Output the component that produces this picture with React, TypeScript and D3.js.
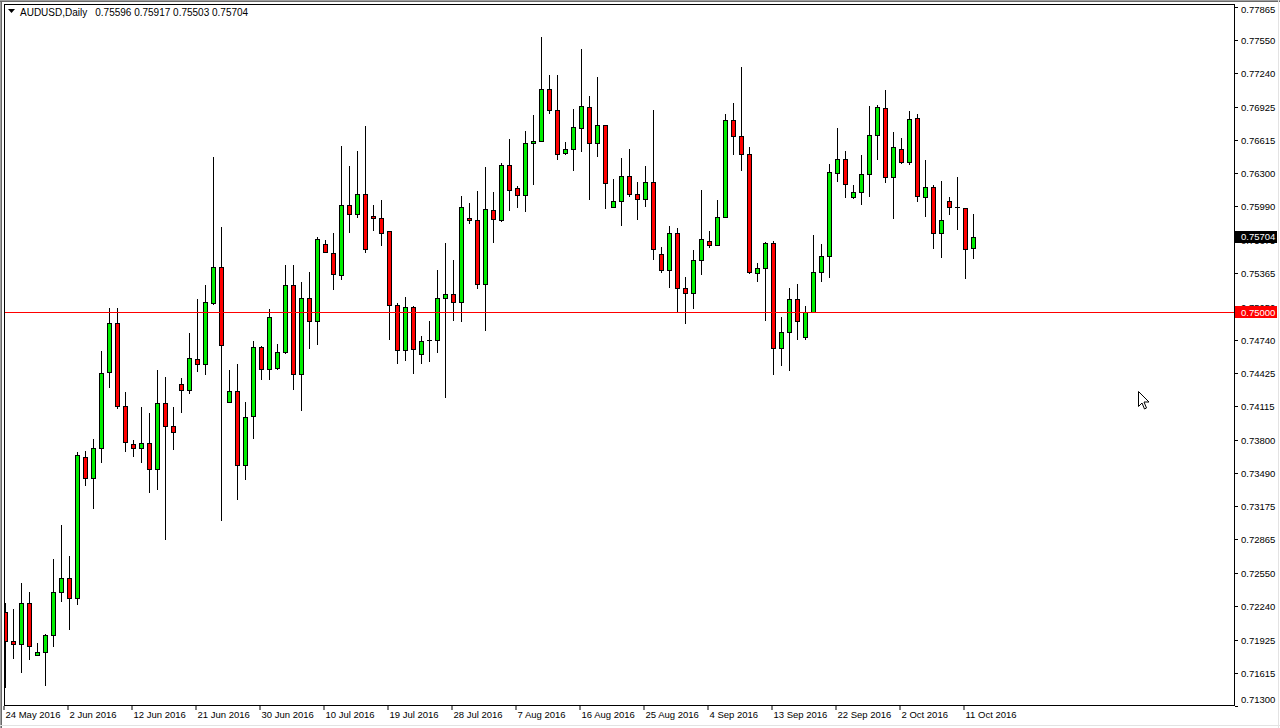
import React from "react";
import * as d3 from "d3";

// ---- Data (AUDUSD Daily, 24 May 2016 – 12 Oct 2016) ----
const opens = [
  0.72185, 0.71912, 0.71884, 0.72269, 0.71781, 0.71809, 0.71969, 0.72372, 0.72504, 0.72316,
  0.73639, 0.73442, 0.73724, 0.74437, 0.74897, 0.74118, 0.73761, 0.73724, 0.73771, 0.73527,
  0.74146, 0.73930, 0.74324, 0.74268, 0.74559, 0.74512, 0.75084, 0.75422, 0.74155, 0.74259,
  0.73564, 0.74024, 0.74672, 0.74465, 0.74474, 0.74625, 0.75253, 0.74418, 0.75131, 0.74916,
  0.75638, 0.75554, 0.75347, 0.76004, 0.75920, 0.76107, 0.75901, 0.75882, 0.75760, 0.75066,
  0.74643, 0.75047, 0.74606, 0.74737, 0.74737, 0.75131, 0.75169, 0.75094, 0.75882, 0.75863,
  0.75263, 0.75957, 0.75863, 0.76380, 0.76164, 0.76098, 0.76586, 0.76605, 0.77093, 0.76896,
  0.76492, 0.76530, 0.76727, 0.76924, 0.76586, 0.76755, 0.75985, 0.76042, 0.76276, 0.76107,
  0.76061, 0.76220, 0.75544, 0.75394, 0.75741, 0.75225, 0.75178, 0.75488, 0.75666, 0.75629,
  0.75892, 0.76802, 0.76652, 0.76483, 0.75366, 0.75413, 0.75648, 0.74662, 0.74812, 0.75122,
  0.74765, 0.75000, 0.75375, 0.75526, 0.76305, 0.76436, 0.76079, 0.76126, 0.76295, 0.76661,
  0.76915, 0.76267, 0.76530, 0.76408, 0.76821, 0.76079, 0.76173, 0.75741, 0.76042, 0.75985,
  0.75976, 0.75596,
];
const highs = [
  0.72269, 0.72213, 0.72457, 0.72372, 0.71894, 0.71978, 0.72682, 0.73001, 0.72710, 0.73686,
  0.73696, 0.73808, 0.74634, 0.75038, 0.75038, 0.74249, 0.73799, 0.74108, 0.74052, 0.74456,
  0.74390, 0.74108, 0.74381, 0.74803, 0.75122, 0.75253, 0.76455, 0.75798, 0.74456, 0.74512,
  0.74155, 0.74728, 0.74681, 0.75028, 0.74700, 0.75441, 0.75441, 0.75282, 0.75375, 0.75704,
  0.75676, 0.75741, 0.76558, 0.76370, 0.76511, 0.76746, 0.76004, 0.76051, 0.75760, 0.75084,
  0.75141, 0.75056, 0.74775, 0.74916, 0.75394, 0.75648, 0.75488, 0.76089, 0.76023, 0.76136,
  0.76361, 0.76126, 0.76398, 0.76624, 0.76183, 0.76699, 0.76849, 0.77581, 0.77224, 0.77224,
  0.76595, 0.76905, 0.77468, 0.77027, 0.77205, 0.76755, 0.76248, 0.76445, 0.76530, 0.76220,
  0.76370, 0.76896, 0.75610, 0.75807, 0.75788, 0.75328, 0.75582, 0.76145, 0.75760, 0.76051,
  0.76858, 0.76961, 0.77299, 0.76549, 0.75460, 0.75657, 0.75666, 0.74953, 0.75225, 0.75263,
  0.75056, 0.75723, 0.75638, 0.76389, 0.76727, 0.76511, 0.76192, 0.76473, 0.76933, 0.76943,
  0.77084, 0.76689, 0.76633, 0.76886, 0.76858, 0.76427, 0.76192, 0.76229, 0.76079, 0.76267,
  0.75976, 0.75917,
];
const lows = [
  0.71481, 0.71753, 0.71621, 0.71743, 0.71781, 0.71499, 0.71865, 0.72288, 0.72025, 0.72260,
  0.73376, 0.73161, 0.73592, 0.74296, 0.74099, 0.73696, 0.73649, 0.73592, 0.73311, 0.73339,
  0.72870, 0.73714, 0.74062, 0.74240, 0.74446, 0.74418, 0.75075, 0.73048, 0.74155, 0.73245,
  0.73433, 0.73817, 0.74371, 0.74371, 0.74465, 0.74615, 0.74277, 0.74080, 0.74662, 0.74700,
  0.75563, 0.75216, 0.75310, 0.75751, 0.75892, 0.75563, 0.75770, 0.75629, 0.74747, 0.74521,
  0.74550, 0.74428, 0.74521, 0.74540, 0.74625, 0.74202, 0.74925, 0.74916, 0.75835, 0.75225,
  0.74831, 0.75657, 0.75854, 0.75957, 0.75985, 0.75948, 0.76201, 0.76605, 0.76868, 0.76436,
  0.76483, 0.76333, 0.76511, 0.76061, 0.76464, 0.75976, 0.75985, 0.75817, 0.76089, 0.75873,
  0.75995, 0.75497, 0.75375, 0.75235, 0.75000, 0.74897, 0.75038, 0.75357, 0.75610, 0.75629,
  0.75892, 0.76483, 0.76333, 0.75366, 0.75291, 0.74925, 0.74418, 0.74503, 0.74456, 0.74747,
  0.74747, 0.75000, 0.75291, 0.75328, 0.76229, 0.76079, 0.76070, 0.76014, 0.76089, 0.76436,
  0.76220, 0.75882, 0.76398, 0.76389, 0.76042, 0.75901, 0.75601, 0.75516, 0.75920, 0.75779,
  0.75319, 0.75503,
];
const closes = [
  0.71912, 0.71884, 0.72269, 0.71865, 0.71809, 0.71969, 0.72372, 0.72504, 0.72316, 0.73658,
  0.73442, 0.73724, 0.74428, 0.74897, 0.74118, 0.73780, 0.73724, 0.73771, 0.73527, 0.74146,
  0.73930, 0.73874, 0.74268, 0.74568, 0.74512, 0.75094, 0.75422, 0.74690, 0.74259, 0.73564,
  0.74015, 0.74672, 0.74465, 0.74953, 0.74625, 0.75253, 0.74418, 0.75131, 0.74916, 0.75685,
  0.75563, 0.75357, 0.76004, 0.75920, 0.76107, 0.75591, 0.75882, 0.75741, 0.75066, 0.74643,
  0.75047, 0.74653, 0.74728, 0.74737, 0.75131, 0.75169, 0.75094, 0.75985, 0.75863, 0.75263,
  0.75967, 0.75873, 0.76380, 0.76145, 0.76098, 0.76586, 0.76605, 0.77093, 0.76896, 0.76483,
  0.76530, 0.76736, 0.76933, 0.76586, 0.76755, 0.76211, 0.76042, 0.76276, 0.76107, 0.76061,
  0.76220, 0.75591, 0.75394, 0.75741, 0.75225, 0.75178, 0.75488, 0.75685, 0.75629, 0.75892,
  0.76802, 0.76652, 0.76483, 0.75375, 0.75413, 0.75648, 0.74662, 0.74812, 0.75122, 0.74916,
  0.75000, 0.75375, 0.75526, 0.76314, 0.76436, 0.76201, 0.76126, 0.76295, 0.76661, 0.76924,
  0.76267, 0.76549, 0.76408, 0.76811, 0.76089, 0.76173, 0.75741, 0.75863, 0.75985, 0.75985,
  0.75591, 0.75704,
];

const dateLabels = [
  "24 May 2016", "2 Jun 2016", "12 Jun 2016", "21 Jun 2016", "30 Jun 2016", "10 Jul 2016",
  "19 Jul 2016", "28 Jul 2016", "7 Aug 2016", "16 Aug 2016", "25 Aug 2016", "4 Sep 2016",
  "13 Sep 2016", "22 Sep 2016", "2 Oct 2016", "11 Oct 2016",
];
const dateLabelBars = [0, 8, 16, 24, 32, 40, 48, 56, 64, 72, 80, 88, 96, 104, 112, 120];

const priceLabels = [
  "0.77865", "0.77550", "0.77240", "0.76925", "0.76615", "0.76300", "0.75990", "0.75675",
  "0.75365", "0.75050", "0.74740", "0.74425", "0.74115", "0.73800", "0.73490", "0.73175",
  "0.72865", "0.72550", "0.72240", "0.71925", "0.71615", "0.71300",
];

const symbolTitle = "AUDUSD,Daily";
const levelPrice = 0.75;

// ---- Layout ----
const W = 1280;
const H = 728;
const plot = { left: 4, top: 4, right: 1234, bottom: 705 };
const BULL = "#00ee00";
const BEAR = "#ff0000";
const FONT = "'Liberation Sans', Arial, sans-serif";

export default function App() {
  const n = closes.length;
  const x = d3.scaleLinear().domain([0, n - 1]).range([5.5, 5.5 + 8 * (n - 1)]);
  const y = d3
    .scaleLinear()
    .domain([+priceLabels[priceLabels.length - 1], +priceLabels[0]])
    .range([706.2, 6.7]);

  const py = (v: number) => Math.round(y(v));
  const last = n - 1;
  const lastO = opens[last], lastH = highs[last], lastL = lows[last], lastC = closes[last];

  const candles = d3.range(n).map((i) => {
    const cx = x(i);
    const o = py(opens[i]);
    const c = py(closes[i]);
    const hi = py(highs[i]);
    const lo = py(lows[i]);
    const top = Math.min(o, c);
    const bot = Math.max(o, c);
    const up = closes[i] > opens[i];
    const flat = closes[i] === opens[i] || bot - top < 1;
    return (
      <g key={i}>
        <line x1={cx} x2={cx} y1={hi} y2={lo + 1} stroke="#000" strokeWidth={1} />
        {flat ? (
          <line x1={cx - 2.5} x2={cx + 2.5} y1={top + 0.5} y2={top + 0.5} stroke="#000" strokeWidth={1} />
        ) : (
          <rect
            x={cx - 2}
            y={top + 0.5}
            width={4}
            height={bot - top}
            fill={up ? BULL : BEAR}
            stroke="#000"
            strokeWidth={1}
          />
        )}
      </g>
    );
  });

  const lvlY = py(levelPrice) + 0.5;
  const curY = y(lastC);

  return (
    <svg
      width={W}
      height={H}
      style={{ position: "absolute", left: 0, top: 0, display: "block", background: "#fff" }}
    >
      <defs>
        <clipPath id="plotClip">
          <rect x={plot.left + 1} y={plot.top + 1} width={plot.right - plot.left - 1} height={plot.bottom - plot.top - 1} />
        </clipPath>
      </defs>
      <rect x={0} y={0} width={W} height={H} fill="#fff" />
      {/* window frame */}
      <line x1={0.5} x2={0.5} y1={0} y2={H} stroke="#a0a0a0" />
      <line x1={1.5} x2={1.5} y1={0} y2={H} stroke="#696969" />
      <line x1={0} x2={W} y1={0.5} y2={0.5} stroke="#a0a0a0" />
      <line x1={0} x2={W} y1={1.5} y2={1.5} stroke="#696969" />
      <line x1={W - 1.5} x2={W - 1.5} y1={0} y2={H} stroke="#e3e3e3" />
      <line x1={0} x2={W} y1={H - 2.5} y2={H - 2.5} stroke="#e3e3e3" />

      {/* plot border */}
      <rect
        x={plot.left + 0.5}
        y={plot.top + 0.5}
        width={plot.right - plot.left}
        height={plot.bottom - plot.top}
        fill="none"
        stroke="#000"
      />

      {/* candles */}
      <g clipPath="url(#plotClip)">{candles}</g>

      {/* horizontal level */}
      <line x1={plot.left + 1} x2={plot.right} y1={lvlY} y2={lvlY} stroke="#ff0000" strokeWidth={1} />

      {/* price axis */}
      {priceLabels.map((p) => {
        const yy = py(+p) + 0.5;
        const ty = Math.max(10, Math.min(700, yy));
        return (
          <g key={p}>
            <line x1={plot.right + 1} x2={plot.right + 4} y1={yy} y2={yy} stroke="#000" />
            <text x={1241} y={ty} dy="0.35em" fontFamily={FONT} fontSize={9.5} fill="#000">
              {p}
            </text>
          </g>
        );
      })}

      {/* level label box */}
      <rect x={plot.right + 1} y={lvlY - 6.5} width={42} height={12} fill="#ff0000" />
      <text x={1241} y={lvlY} dy="0.35em" fontFamily={FONT} fontSize={9.5} fill="#fff">
        {levelPrice.toFixed(5)}
      </text>

      {/* current price box */}
      <rect x={plot.right + 1} y={Math.round(curY) - 6} width={42} height={12} fill="#000" />
      <text x={1241} y={Math.round(curY)} dy="0.35em" fontFamily={FONT} fontSize={9.5} fill="#fff">
        {lastC.toFixed(5)}
      </text>

      {/* time axis */}
      {dateLabelBars.map((b, k) => {
        const tx = x(b) - 1.5;
        return (
          <g key={b}>
            <line x1={tx} x2={tx} y1={plot.bottom + 1} y2={plot.bottom + 5} stroke="#000" />
            <text x={tx + 1.5} y={718} fontFamily={FONT} fontSize={9.5} fill="#000">
              {dateLabels[k]}
            </text>
          </g>
        );
      })}

      {/* title */}
      <path d="M8,9 L15,9 L11.5,13 Z" fill="#000" />
      <text x={20} y={16} fontFamily={FONT} fontSize={10} fill="#000">
        {symbolTitle}
        <tspan dx={8}>
          {[lastO, lastH, lastL, lastC].map((v) => v.toFixed(5)).join(" ")}
        </tspan>
      </text>

      {/* mouse cursor */}
      <path
        d="M1138.5,391.5 L1138.5,406.5 L1142,403 L1144.5,409 L1146.5,408 L1144,402 L1149,402 Z"
        fill="#fff"
        stroke="#000"
        strokeWidth={1}
      />
    </svg>
  );
}
